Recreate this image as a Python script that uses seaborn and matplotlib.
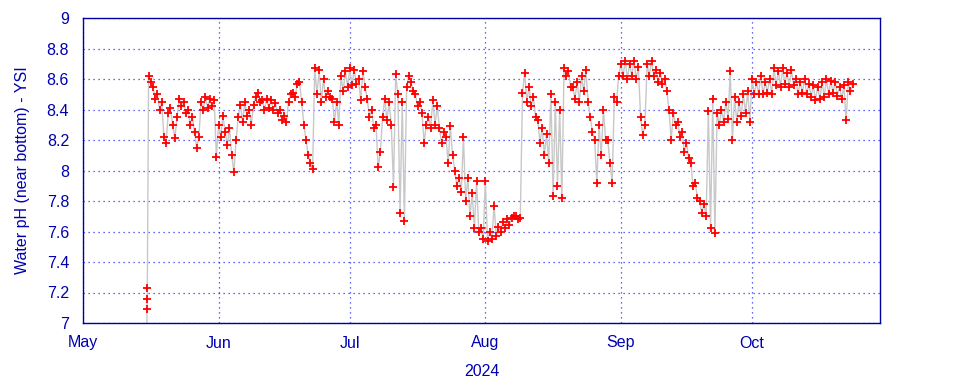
import pandas as pd
import numpy as np
import seaborn as sns
import matplotlib.pyplot as plt
from matplotlib.ticker import FuncFormatter

# Sensor start-up readings (May 15 afternoon)
start_times = ["2024-05-15 14:00", "2024-05-15 15:00", "2024-05-15 16:00", "2024-05-15 17:00"]
start_ph = [6.80, 7.09, 7.16, 7.23]

# Twice-daily readings (00:00 / 12:00), starting May 16 00:00
ph_may = [8.62, 8.58, 8.55, 8.47, 8.50, 8.40, 8.45, 8.22, 8.18, 8.38,
          8.41, 8.30, 8.21, 8.35, 8.47, 8.42, 8.45, 8.38, 8.40, 8.30,
          8.35, 8.25, 8.15, 8.22, 8.45, 8.40, 8.48, 8.41, 8.47, 8.42,
          8.46, 8.09]
ph_jun = [8.30, 8.22, 8.36, 8.25, 8.17, 8.28, 8.10, 7.99, 8.20, 8.35,
          8.43, 8.32, 8.45, 8.36, 8.40, 8.30, 8.43, 8.48, 8.51, 8.45,
          8.46, 8.40, 8.47, 8.41, 8.46, 8.40, 8.44, 8.38, 8.40, 8.33,
          8.36, 8.32, 8.45, 8.50, 8.51, 8.48, 8.57, 8.58, 8.45, 8.30,
          8.20, 8.10, 8.05, 8.01, 8.67, 8.50, 8.66, 8.45, 8.60, 8.48,
          8.52, 8.48, 8.47, 8.32, 8.45, 8.30, 8.62, 8.52, 8.65, 8.55]
ph_jul = [8.67, 8.56, 8.66, 8.57, 8.60, 8.46, 8.65, 8.55, 8.47, 8.35,
          8.40, 8.28, 8.30, 8.02, 8.12, 8.35, 8.47, 8.33, 8.45, 8.30,
          7.89, 8.63, 8.50, 7.72, 8.45, 7.67, 8.55, 8.62, 8.58, 8.52,
          8.50, 8.42, 8.45, 8.38, 8.18, 8.30, 8.35, 8.28, 8.46, 8.30,
          8.42, 8.28, 8.18, 8.25, 8.22, 8.05, 8.29, 8.10, 8.00, 7.90,
          7.95, 7.86, 8.22, 7.80, 7.95, 7.70, 7.85, 7.62, 7.93, 7.60,
          7.62, 7.55]
ph_aug = [7.93, 7.54, 7.60, 7.55, 7.77, 7.57, 7.63, 7.60, 7.66, 7.62,
          7.68, 7.64, 7.69, 7.70, 7.70, 7.68, 7.69, 8.51, 8.64, 8.45,
          8.55, 8.42, 8.48, 8.35, 8.33, 8.18, 8.28, 8.10, 8.24, 8.05,
          8.50, 7.83, 8.45, 7.90, 8.40, 7.82, 8.67, 8.62, 8.65, 8.55,
          8.55, 8.47, 8.58, 8.45, 8.62, 8.52, 8.66, 8.45, 8.35, 8.25,
          8.20, 7.92, 8.30, 8.10, 8.40, 8.20, 8.20, 8.05, 7.92, 8.48,
          8.45, 8.62]
ph_sep = [8.70, 8.62, 8.72, 8.60, 8.70, 8.62, 8.72, 8.60, 8.68, 8.35,
          8.23, 8.30, 8.70, 8.62, 8.72, 8.62, 8.66, 8.58, 8.64, 8.57,
          8.60, 8.52, 8.40, 8.20, 8.38, 8.30, 8.32, 8.22, 8.25, 8.12,
          8.18, 8.08, 8.05, 7.90, 7.92, 7.82, 7.80, 7.72, 7.78, 7.70,
          8.39, 7.62, 8.47, 7.59, 8.38, 8.30, 8.40, 8.32, 8.45, 8.34,
          8.65, 8.20, 8.48, 8.32, 8.45, 8.36, 8.50, 8.38, 8.52, 8.32]
ph_oct = [8.60, 8.50, 8.58, 8.50, 8.62, 8.50, 8.58, 8.51, 8.60, 8.50,
          8.67, 8.56, 8.65, 8.55, 8.67, 8.57, 8.64, 8.55, 8.66, 8.56,
          8.60, 8.50, 8.58, 8.51, 8.60, 8.50, 8.57, 8.48, 8.56, 8.46,
          8.55, 8.47, 8.58, 8.48, 8.60, 8.50, 8.59, 8.51, 8.58, 8.49,
          8.55, 8.47, 8.56, 8.33, 8.58, 8.52, 8.57]

month_ticks = ["2024-05-01", "2024-06-01", "2024-07-01", "2024-08-01", "2024-09-01", "2024-10-01"]
month_labels = ["May", "Jun", "Jul", "Aug", "Sep", "Oct"]

# Build the dataframe
ph_main = ph_may + ph_jun + ph_jul + ph_aug + ph_sep + ph_oct
t_main = pd.date_range("2024-05-16 00:00", periods=len(ph_main), freq="12h")
df = pd.DataFrame({
    "time": list(pd.to_datetime(start_times)) + list(t_main),
    "ph": start_ph + ph_main,
})

sns.set_style("white")
plt.rcParams["font.family"] = ["Liberation Sans", "DejaVu Sans"]

text_blue = "#0000b0"
axis_blue = "#0000a0"

fig = plt.figure(figsize=(9.6, 3.84), dpi=100)
ax = fig.add_axes([83 / 960, 61 / 384, 797 / 960, 305 / 384])

sns.lineplot(data=df, x="time", y="ph", ax=ax, color="#c8c8c8", linewidth=1.0,
             estimator=None, zorder=2)
sns.scatterplot(data=df, x="time", y="ph", ax=ax, marker="+", color="red",
                s=34, linewidth=1.3, zorder=3)

ax.set_xlim(pd.Timestamp("2024-05-01"), pd.Timestamp("2024-10-30 06:00"))
ax.set_ylim(7, 9)
ax.set_yticks(np.arange(7, 9.01, 0.2))
ax.yaxis.set_major_formatter(FuncFormatter(lambda v, p: f"{v:g}"))
ax.set_xticks(pd.to_datetime(month_ticks))
ax.set_xticklabels(month_labels)

ax.grid(True, color="blue", linestyle=(0, (1, 3)), linewidth=0.9, alpha=0.8)
ax.set_axisbelow(True)
for s in ax.spines.values():
    s.set_color(axis_blue)
    s.set_linewidth(1.0)

ax.tick_params(axis="both", length=0, labelsize=11.5, labelcolor=text_blue)
ax.tick_params(axis="x", pad=9)
ax.tick_params(axis="y", pad=10)
ax.set_xlabel("2024", fontsize=11.5, color=text_blue, labelpad=10)
ax.set_ylabel("Water pH (near bottom) - YSI", fontsize=11.5, color=text_blue, labelpad=12)

plt.savefig("out.png", dpi=100)
